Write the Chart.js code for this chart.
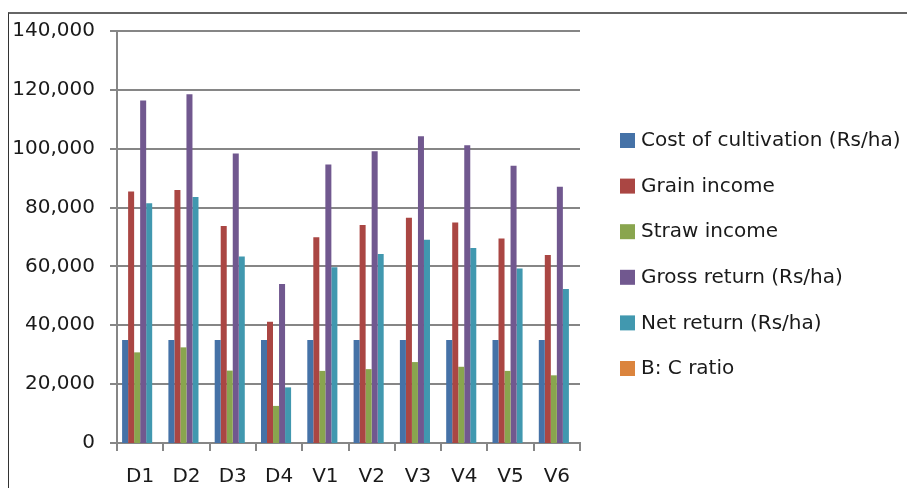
<!DOCTYPE html>
<html>
<head>
<meta charset="utf-8">
<script src="https://cdn.jsdelivr.net/npm/chart.js@4/dist/chart.umd.min.js"></script>
<style>
  html, body { margin: 0; padding: 0; background: #fff; overflow: hidden; }
  #wrap { position: relative; width: 907px; height: 488px; }
  #frame { position: absolute; left: 8px; top: 12px; width: 910px; height: 500px;
           border-top: 2px solid #666; border-left: 1px solid #333; box-sizing: border-box; pointer-events: none; }
  canvas { position: absolute; left: 0; top: 0; }
</style>
</head>
<body>
<div id="wrap">
  <canvas id="c" width="907" height="488"></canvas>
  <div id="frame"></div>
</div>
<script>
const categories = ['D1', 'D2', 'D3', 'D4', 'V1', 'V2', 'V3', 'V4', 'V5', 'V6'];
const seriesNames = ['Cost of cultivation (Rs/ha)', 'Grain income', 'Straw income', 'Gross return (Rs/ha)', 'Net return (Rs/ha)', 'B: C ratio'];
const costOfCultivation = [35000, 35000, 35000, 35000, 35000, 35000, 35000, 35000, 35000, 35000];
const grainIncome = [85500, 86000, 73700, 41200, 69900, 74100, 76500, 74900, 69500, 63900];
const strawIncome = [30800, 32500, 24600, 12600, 24500, 25100, 27500, 25900, 24500, 23000];
const grossReturn = [116400, 118500, 98400, 54000, 94600, 99100, 104200, 101200, 94200, 87100];
const netReturn = [81500, 83600, 63400, 18900, 59700, 64200, 69100, 66300, 59300, 52300];
const bcRatio = [3.33, 3.39, 2.81, 1.54, 2.70, 2.83, 2.98, 2.89, 2.69, 2.49];
const yTicks = [0, 20000, 40000, 60000, 80000, 100000, 120000, 140000];

const colors = ['#4572A7', '#AA4643', '#89A54E', '#71588F', '#4198AF', '#DB843D'];
const seriesValues = [costOfCultivation, grainIncome, strawIncome, grossReturn, netReturn, bcRatio];

const FONT = 'DejaVu Sans';

const legendPlugin = {
  id: 'sideLegend',
  afterDraw(chart, args, opts) {
    const ctx = chart.ctx;
    ctx.save();
    ctx.font = '20px "' + FONT + '"';
    ctx.textBaseline = 'middle';
    ctx.textAlign = 'left';
    chart.data.datasets.forEach((ds, i) => {
      const cy = opts.top + i * opts.step;
      ctx.fillStyle = ds.backgroundColor;
      ctx.fillRect(opts.left, cy - 7, 15, 15);
      ctx.fillStyle = '#1a1a1a';
      ctx.fillText(ds.label, opts.left + 21, cy + 1);
    });
    ctx.restore();
  }
};

new Chart(document.getElementById('c'), {
  type: 'bar',
  data: {
    labels: categories,
    datasets: seriesNames.map((name, i) => ({
      label: name,
      data: seriesValues[i],
      backgroundColor: colors[i],
      borderWidth: 0,
      inflateAmount: i === 5 ? 0 : 'auto',
      categoryPercentage: 0.78,
      barPercentage: 1.0
    }))
  },
  plugins: [legendPlugin],
  options: {
    responsive: false,
    animation: false,
    devicePixelRatio: 1,
    layout: { padding: { top: 31, right: 327, bottom: 0, left: 0 } },
    plugins: {
      legend: { display: false },
      tooltip: { enabled: false },
      sideLegend: { left: 620, top: 140, step: 45.6 }
    },
    scales: {
      x: {
        z: 1,
        offset: true,
        grid: { display: true, drawOnChartArea: false, drawTicks: true, tickLength: 8, offset: true, color: '#868686', lineWidth: 2 },
        border: { display: true, color: '#868686', width: 2 },
        ticks: { color: '#1a1a1a', font: { family: FONT, size: 20 }, padding: 14, maxRotation: 0, autoSkip: false },
        afterFit(scale) { scale.height = 45; }
      },
      y: {
        min: 0,
        max: 140000,
        afterBuildTicks(scale) { scale.ticks = yTicks.map(v => ({ value: v })); },
        grid: {
          color: '#868686',
          lineWidth: (c) => (c.tick && c.tick.value === 0 ? 0 : 2),
          tickWidth: 2,
          tickColor: '#868686',
          drawTicks: true,
          tickLength: 7
        },
        border: { display: true, color: '#868686', width: 2 },
        ticks: {
          color: '#1a1a1a',
          font: { family: FONT, size: 20 },
          padding: 15,
          callback: (v) => Number(v).toLocaleString('en-US')
        },
        afterFit(scale) { scale.width = 117; }
      }
    }
  }
});
</script>
</body>
</html>
